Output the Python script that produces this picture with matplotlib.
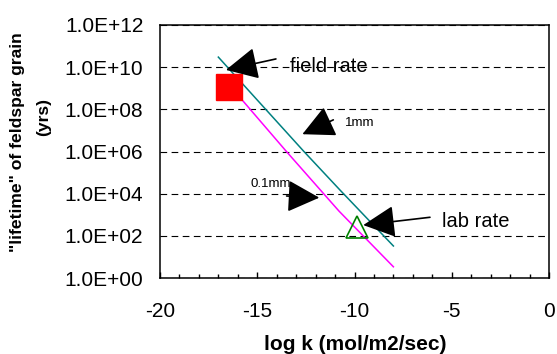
import matplotlib
matplotlib.use('Agg')
import matplotlib.pyplot as plt
from matplotlib.ticker import FixedLocator, MultipleLocator, NullLocator

plt.rcParams['font.family'] = ['Liberation Sans', 'DejaVu Sans']

# ---- data ----
log_k_1mm = [-17.0, -12.6, -10.75, -8.0]
life_1mm = [3.0e10, 1.0e6, 1.5e4, 33]

log_k_01mm = [-17.0, -15.75, -13.5, -10.8, -8.0]
life_01mm = [3.0e9, 2.6e8, 1.0e6, 1.5e3, 3.4]

field_k = [-16.43]
field_life = [1.1e9]

lab_k = [-9.86]
lab_life = [2.6e2]

x_ticks = [-20, -15, -10, -5, 0]
x_tick_labels = ['-20', '-15', '-10', '-5', '0']
y_ticks = [1e0, 1e2, 1e4, 1e6, 1e8, 1e10, 1e12]
y_tick_labels = ['1.0E+00', '1.0E+02', '1.0E+04', '1.0E+06', '1.0E+08', '1.0E+10', '1.0E+12']

# annotations: text, text position, arrow tail, arrow tip, fontsize
ann_texts = ['field rate', '1mm', '0.1mm', 'lab rate']
ann_text_xy = [(-13.32, 10**10.01), (-10.49, 10**7.35), (-15.37, 10**4.46), (-5.50, 10**2.67)]
ann_tail = [(-14.04, 10**10.39), (-11.09, 10**7.50), (-13.49, 10**3.89), (-6.12, 10**2.88)]
ann_tip = [(-16.61, 10**9.87), (-12.68, 10**6.82), (-11.81, 10**3.81), (-9.55, 10**2.51)]
ann_size = [14.5, 9.5, 9.5, 14.5]

fig = plt.figure(figsize=(5.57, 3.54), dpi=100)
ax = fig.add_axes([160/557, 1-278/354, (549-160)/557, (278-25)/354])

ax.set_yscale('log')
ax.set_xlim(-20, 0)
ax.set_ylim(1e0, 1e12)

ax.plot(log_k_1mm, life_1mm, color='#008080', lw=1.1, zorder=3)
ax.plot(log_k_01mm, life_01mm, color='#FF00FF', lw=1.1, zorder=3)
ax.plot(field_k, field_life, marker='s', ms=19, color='#FF0000', ls='none', zorder=4)
ax.plot(lab_k, lab_life, marker='^', ms=16, mfc='none', mec='#008000', mew=1.2, ls='none', zorder=4)

for t, txy, tail, tip, fs in zip(ann_texts, ann_text_xy, ann_tail, ann_tip, ann_size):
    ax.annotate('', xy=tip, xytext=tail,
                arrowprops=dict(arrowstyle='-|>,head_length=1.0,head_width=0.5',
                                mutation_scale=20, color='black', lw=1.2,
                                shrinkA=0, shrinkB=0), zorder=5)
    ax.text(txy[0], txy[1], t, fontsize=fs, ha='left', va='center', zorder=5)

ax.xaxis.set_major_locator(FixedLocator(x_ticks))
ax.set_xticklabels(x_tick_labels, fontsize=15)
ax.xaxis.set_minor_locator(MultipleLocator(1))
ax.yaxis.set_major_locator(FixedLocator(y_ticks))
ax.yaxis.set_minor_locator(NullLocator())
ax.set_yticklabels(y_tick_labels, fontsize=15)

ax.tick_params(axis='x', which='major', direction='in', length=4.5, width=1, pad=17)
ax.tick_params(axis='x', which='minor', direction='in', length=3, width=1)
ax.tick_params(axis='y', which='both', length=0, pad=12)

ax.yaxis.grid(True, which='major', linestyle=(0, (6, 4)), color='black', lw=0.8)
ax.set_axisbelow(True)
for s in ax.spines.values():
    s.set_linewidth(1.1)
    s.set_color('black')

fig.text(355/557, 1-345/354, 'log k (mol/m2/sec)', fontsize=15, fontweight='bold',
         ha='center', va='center')
fig.text(18/557, 1-142/354, '"lifetime" of feldspar grain', fontsize=12.6, fontweight='bold',
         rotation=90, ha='center', va='center')
fig.text(44/557, 1-117/354, '(yrs)', fontsize=12.6, fontweight='bold',
         rotation=90, ha='center', va='center')

fig.savefig('out.png', dpi=100)
